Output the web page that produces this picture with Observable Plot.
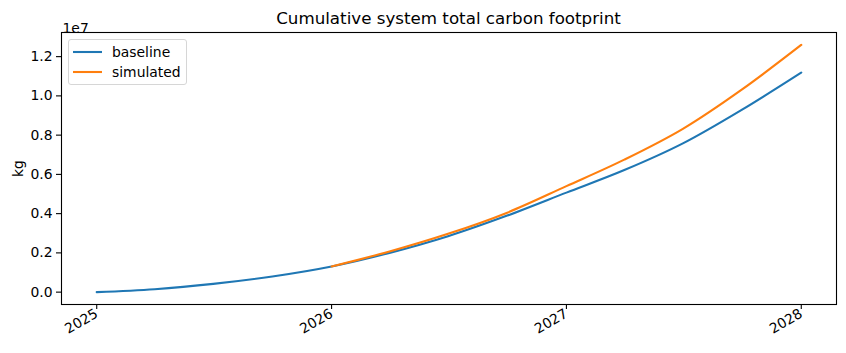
<!DOCTYPE html>
<html>
<head>
<meta charset="utf-8">
<script src="https://cdn.jsdelivr.net/npm/d3@7"></script>
<script src="https://cdn.jsdelivr.net/npm/@observablehq/plot@0.6"></script>
<style>
  body { margin: 0; background: #fff; font-family: "DejaVu Sans", sans-serif; }
  #wrap { position: relative; width: 846px; height: 353px; }
  #title { position: relative; z-index: 2; height: 14px; box-sizing: border-box; padding-top: 8px; line-height: 20px;
           font-size: 16.7px; color: #000; text-align: center; margin-left: 61px; width: 775px; white-space: nowrap; overflow: visible; }
  #legend { position: absolute; left: 68px; top: 39px; width: 117px; height: 44px;
            border: 1px solid #d6d6d6; border-radius: 3px; background: rgba(255,255,255,0.8);
            font-size: 13.9px; color: #000; }
  .row { position: absolute; left: 0; height: 20px; display: flex; align-items: center; }
  .row svg { margin-left: 4px; margin-right: 10px; }
</style>
</head>
<body>
<div id="wrap">
  <div id="title">Cumulative system total carbon footprint</div>
  <div id="chart"></div>
  <div id="legend"></div>
</div>
<script>
const dates = ["2025-01-01","2025-04-01","2025-07-01","2025-10-01","2026-01-01","2026-04-01","2026-07-01","2026-10-01","2027-01-01","2027-04-01","2027-07-01","2027-10-01","2028-01-01"];
const baseline = [0, 0.15e6, 0.42e6, 0.80e6, 1.31e6, 2.00e6, 2.85e6, 3.90e6, 5.07e6, 6.22e6, 7.58e6, 9.30e6, 11.19e6];
const simDates = ["2026-01-01","2026-04-01","2026-07-01","2026-10-01","2027-01-01","2027-04-01","2027-07-01","2027-10-01","2028-01-01"];
const simulated = [1.31e6, 2.07e6, 2.97e6, 4.05e6, 5.40e6, 6.75e6, 8.32e6, 10.33e6, 12.60e6];
const seriesNames = ["baseline", "simulated"];
const seriesColors = ["#1f77b4", "#ff7f0e"];
const yTicks = [0, 0.2e7, 0.4e7, 0.6e7, 0.8e7, 1.0e7, 1.2e7];
const xTicks = ["2025-01-01","2026-01-01","2027-01-01","2028-01-01"];

const rows = [];
dates.forEach((d, i) => rows.push({date: new Date(d), value: baseline[i], series: seriesNames[0]}));
simDates.forEach((d, i) => rows.push({date: new Date(d), value: simulated[i], series: seriesNames[1]}));

const t0 = new Date(dates[0]), t1 = new Date(dates[dates.length - 1]);
const pad = (t1 - t0) * 0.05;
const xDomain = [new Date(+t0 - pad), new Date(+t1 + pad)];
const allVals = baseline.concat(simulated);
const vmin = d3.min(allVals), vmax = d3.max(allVals);
const ypad = (vmax - vmin) * 0.05;

const chart = Plot.plot({
  width: 846,
  height: 339,
  marginTop: 18,
  marginBottom: 49,
  marginLeft: 61,
  marginRight: 10,
  style: { fontFamily: "DejaVu Sans, sans-serif", fontSize: "13.9px", color: "#000", background: "transparent", overflow: "visible" },
  x: { type: "utc", domain: xDomain },
  y: { domain: [vmin - ypad, vmax + ypad] },
  color: { domain: seriesNames, range: seriesColors },
  marks: [
    Plot.axisX({ ticks: xTicks.map(d => new Date(d)), tickFormat: d => String(d.getUTCFullYear()),
      tickSize: 5, tickPadding: 3, tickRotate: -30, label: null, stroke: "#000", strokeWidth: 1.1, strokeOpacity: 1 }),
    Plot.axisY({ ticks: yTicks, tickFormat: d => (d / 1e7).toFixed(1), tickSize: 5, tickPadding: 4,
      label: "kg", labelAnchor: "center", labelArrow: "none", labelOffset: 48, stroke: "#000", strokeWidth: 1.1, strokeOpacity: 1 }),
    Plot.text(["1e7"], { frameAnchor: "top-left", textAnchor: "start", dx: 1, dy: -9, fontSize: 13.9 }),
    Plot.line(rows, { x: "date", y: "value", stroke: "series", z: "series", strokeWidth: 2.1, curve: "monotone-x" }),
    Plot.frame({ stroke: "#000", strokeWidth: 1.1 })
  ]
});
document.getElementById("chart").appendChild(chart);

const legend = document.getElementById("legend");
seriesNames.forEach((name, i) => {
  const row = document.createElement("div");
  row.className = "row";
  row.style.top = (2 + i * 20) + "px";
  row.innerHTML = `<svg width="29" height="4"><line x1="0" x2="29" y1="2" y2="2" stroke="${seriesColors[i]}" stroke-width="2.1"/></svg><span>${name}</span>`;
  legend.appendChild(row);
});
</script>
</body>
</html>
